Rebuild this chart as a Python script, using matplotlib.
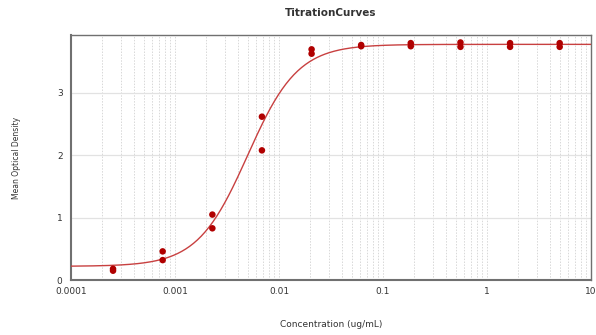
import numpy as np
import matplotlib
matplotlib.use('Agg')
import matplotlib.pyplot as plt
from matplotlib.ticker import FixedLocator, LogLocator, NullFormatter

# concentrations (3-fold dilution from 5 ug/mL), two replicates each
conc = [5, 1.667, 0.556, 0.185, 0.0617, 0.0206, 0.00686, 0.00229, 0.000762, 0.000254]
rep1 = [3.80, 3.80, 3.81, 3.80, 3.77, 3.70, 2.62, 1.05, 0.46, 0.18]
rep2 = [3.74, 3.74, 3.74, 3.75, 3.75, 3.63, 2.08, 0.83, 0.32, 0.15]

# 4-parameter logistic fit shown as the line
fit_bottom = 0.22
fit_top = 3.78
fit_ec50 = 0.0050
fit_hill = 1.8

x_ticks = [0.0001, 0.001, 0.01, 0.1, 1, 10]
x_labels = ['0.0001', '0.001', '0.01', '0.1', '1', '10']
y_ticks = [0, 1, 2, 3]

fig = plt.figure(figsize=(5.96, 3.35), dpi=100)
ax = fig.add_axes([0.119, 0.164, 0.8726, 0.7315])

xs = np.logspace(-4, 1, 400)
ys = fit_top + (fit_bottom - fit_top) / (1 + (xs / fit_ec50) ** fit_hill)
ax.plot(xs, ys, color='#c84040', lw=1.0, zorder=3)

ax.scatter(conc, rep1, color='#b00000', s=22, zorder=4, edgecolors='none')
ax.scatter(conc, rep2, color='#b00000', s=22, zorder=4, edgecolors='none')

ax.set_xscale('log')
ax.set_xlim(0.0001, 10)
ax.set_ylim(0, 3.93)

ax.xaxis.set_major_locator(FixedLocator(x_ticks))
ax.set_xticklabels(x_labels)
ax.xaxis.set_minor_locator(LogLocator(base=10, subs=np.arange(2, 10)))
ax.xaxis.set_minor_formatter(NullFormatter())
ax.set_yticks(y_ticks)

ax.grid(True, which='major', axis='y', color='#e2e2e2', lw=0.9)
ax.grid(True, which='both', axis='x', color='#d8d8d8', lw=0.7, ls=(0, (1.5, 1.5)))
ax.set_axisbelow(True)

ax.tick_params(axis='both', which='both', length=0, labelsize=6.5, colors='#333333')
ax.tick_params(axis='x', pad=5)
ax.tick_params(axis='y', pad=6)

for side in ['left', 'bottom', 'top', 'right']:
    ax.spines[side].set_color('#707070')
    ax.spines[side].set_linewidth(1.0)
ax.spines['left'].set_linewidth(1.5)
ax.spines['bottom'].set_linewidth(1.5)

ax.set_title('TitrationCurves', fontsize=7.5, fontweight='bold', color='#333333', pad=14)
ax.set_xlabel('Concentration (ug/mL)', fontsize=6.5, color='#333333', labelpad=17)
ax.set_ylabel('Mean Optical Density', fontsize=5.5, color='#333333', labelpad=26)

plt.savefig('out.png', dpi=100)
